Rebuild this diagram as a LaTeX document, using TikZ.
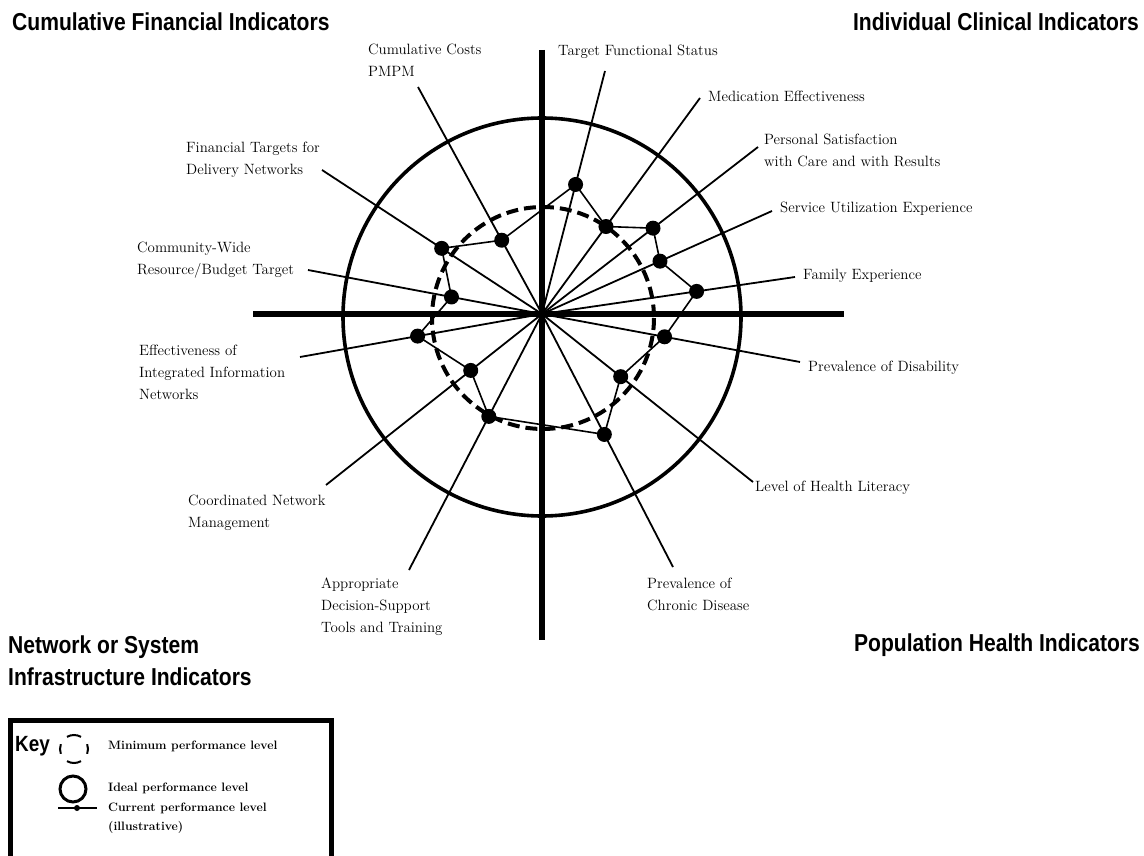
\documentclass[tikz,border=0pt]{standalone}
\usepackage{fontspec}
\newfontfamily\hfont[FakeStretch=0.86]{Liberation Sans}
\usetikzlibrary{calc}
\begin{document}
\begin{tikzpicture}[x=1pt,y=-1pt,
  lbl/.style={anchor=west,align=left,inner sep=0pt,font=\fontsize{14.9}{22}\selectfont},
  head/.style={inner sep=0pt,align=left,font=\hfont\bfseries\fontsize{24.5}{32}\selectfont},
  keytxt/.style={anchor=west,align=left,inner sep=0pt,font=\bfseries\fontsize{12.2}{19}\selectfont},
  axisline/.style={line width=6pt},
  spoke/.style={line width=1.8pt},
  ideal/.style={line width=3.6pt},
  minimum/.style={line width=4pt,dash pattern=on 12pt off 6pt},
  poly/.style={line width=1.6pt},
  dot/.style={circle,fill=black,inner sep=0pt,minimum size=15pt}
]
\useasboundingbox (0,0) rectangle (1144,856);
\fill[white] (0,0) rectangle (1144,856);

% centre and spoke ends
\coordinate (c) at (542,314);
\coordinate (e1) at (605,71);
\coordinate (e2) at (700,98);
\coordinate (e3) at (758,147);
\coordinate (e4) at (772,211);
\coordinate (e5) at (795,277);
\coordinate (e6) at (800,362);
\coordinate (e7) at (753,482);
\coordinate (e8) at (673,567);
\coordinate (e9) at (409,570);
\coordinate (e10) at (326,485);
\coordinate (e11) at (300,357);
\coordinate (e12) at (308,270);
\coordinate (e13) at (322,170);
\coordinate (e14) at (418,87);

% circles
\draw[ideal] (542,317) circle[radius=199];
\draw[minimum] (543,318) circle[radius=111];

% axes
\coordinate (vt) at (542,50);
\coordinate (vb) at (542,640);
\coordinate (hl) at (253,314);
\coordinate (hr) at (844,314);
\draw[axisline] (vt) -- (vb);
\draw[axisline] (hl) -- (hr);

% spokes
\foreach \i in {1,...,14} \draw[spoke] (c) -- (e\i);

% current-level dots
\node[dot] (d1) at ($(c)!0.533!(e1)$) {};
\node[dot] (d2) at ($(c)!0.405!(e2)$) {};
\node[dot] (d3) at ($(c)!0.514!(e3)$) {};
\node[dot] (d4) at ($(c)!0.513!(e4)$) {};
\node[dot] (d5) at ($(c)!0.611!(e5)$) {};
\node[dot] (d6) at ($(c)!0.475!(e6)$) {};
\node[dot] (d7) at ($(c)!0.373!(e7)$) {};
\node[dot] (d8) at ($(c)!0.476!(e8)$) {};
\node[dot] (d9) at ($(c)!0.40!(e9)$) {};
\node[dot] (d10) at ($(c)!0.33!(e10)$) {};
\node[dot] (d11) at ($(c)!0.514!(e11)$) {};
\node[dot] (d12) at ($(c)!0.387!(e12)$) {};
\node[dot] (d13) at ($(c)!0.456!(e13)$) {};
\node[dot] (d14) at ($(c)!0.325!(e14)$) {};
\draw[poly] (d1.center) -- (d2.center) -- (d3.center) -- (d4.center) -- (d5.center)
  -- (d6.center) -- (d7.center) -- (d8.center) -- (d9.center) -- (d10.center)
  -- (d11.center) -- (d12.center) -- (d13.center) -- (d14.center) -- cycle;

% spoke labels
\node[lbl] (l1) at (558,52) {Target Functional Status};
\node[lbl] (l2) at (708,96) {Medication Effectiveness};
\node[lbl] (l3) at (764,150) {Personal Satisfaction\\with Care and with Results};
\node[lbl] (l4) at (780,209) {Service Utilization Experience};
\node[lbl] (l5) at (803,276) {Family Experience};
\node[lbl] (l6) at (808,368) {Prevalence of Disability};
\node[lbl] (l7) at (755,488) {Level of Health Literacy};
\node[lbl] (l8) at (647,594) {Prevalence of\\Chronic Disease};
\node[lbl] (l9) at (321,607) {Appropriate\\Decision-Support\\Tools and Training};
\node[lbl] (l10) at (188,513) {Coordinated Network\\Management};
\node[lbl] (l11) at (139,372) {Effectiveness of\\Integrated Information\\Networks};
\node[lbl] (l12) at (137,260) {Community-Wide\\Resource/Budget Target};
\node[lbl] (l13) at (186,160) {Financial Targets for\\Delivery Networks};
\node[lbl] (l14) at (368,60) {Cumulative Costs\\PMPM};

% quadrant headings
\node[head,anchor=west] (hq1) at (12,22) {Cumulative Financial Indicators};
\node[head,anchor=east] (hq2) at (1139,22) {Individual Clinical Indicators};
\node[head,anchor=east] (hq3) at (1140,645) {Population Health Indicators};
\node[head,anchor=west] (hq4) at (8,661) {Network or System\\Infrastructure Indicators};

% key
\draw[line width=5pt] (10,870) -- (10,720) -- (331,720) -- (331,870);
\node[head,anchor=west,font=\hfont\bfseries\fontsize{22}{24}\selectfont] (key) at (15,746) {Key};
\begin{scope}[line width=2pt]
  \draw (74,749) ++(160:14) arc[start angle=160,end angle=200,radius=14];
  \draw (74,749) ++(-20:14) arc[start angle=-20,end angle=20,radius=14];
  \draw (74,749) ++(60:14) arc[start angle=60,end angle=120,radius=14];
  \draw (74,749) ++(240:14) arc[start angle=240,end angle=300,radius=14];
\end{scope}
\draw[line width=3pt] (73,789) circle[radius=13];
\coordinate (kl) at (58,808);
\coordinate (kr) at (97,808);
\draw[line width=1.5pt] (kl) -- (kr);
\node[circle,fill=black,inner sep=0pt,minimum size=6pt] (kd) at (77,808) {};
\node[keytxt] (k1) at (108,746) {Minimum performance level};
\node[keytxt] (k2) at (108,788) {Ideal performance level};
\node[keytxt] (k3) at (108,818) {Current performance level\\(illustrative)};
\end{tikzpicture}
\end{document}
